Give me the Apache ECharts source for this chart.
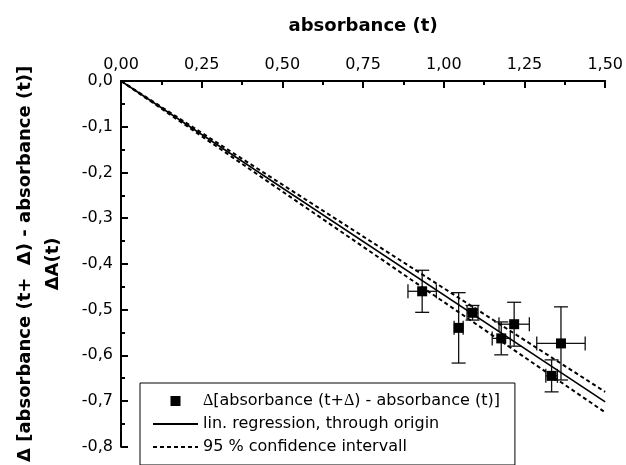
<!DOCTYPE html>
<html>
<head>
<meta charset="utf-8">
<script src="https://cdn.jsdelivr.net/npm/echarts@6/dist/echarts.min.js"></script>
<style>
html,body{margin:0;padding:0;background:#fff;}
#chart{width:626px;height:465px;}
</style>
</head>
<body>
<div id="chart"></div>
<script>
// ---- data ----
const pointX  = [0.933, 1.046, 1.089, 1.218, 1.178, 1.363, 1.334];
const pointY  = [-0.460, -0.540, -0.507, -0.532, -0.563, -0.574, -0.645];
const errX    = [0.044, 0.014, 0.017, 0.047, 0.028, 0.075, 0.018];
const errY    = [0.046, 0.077, 0.016, 0.048, 0.036, 0.080, 0.035];
const lineX   = [0, 1.5];
const regY    = [0, -0.702];
const ciUpY   = [0, -0.680];
const ciLowY  = [0, -0.725];
const xTicks  = ['0,00', '0,25', '0,50', '0,75', '1,00', '1,25', '1,50'];
const yTicks  = ['0,0', '-0,1', '-0,2', '-0,3', '-0,4', '-0,5', '-0,6', '-0,7', '-0,8'];

const nameData = 'Δ[absorbance (t+Δ) - absorbance (t)]';
const nameReg  = 'lin. regression, through origin';
const nameCI   = '95 % confidence intervall';

const pts = pointX.map((x, i) => [x, pointY[i]]);
const errs = pointX.map((x, i) => [x, pointY[i], errX[i], errY[i]]);
const pairs = ys => lineX.map((x, i) => [x, ys[i]]);

const chart = echarts.init(document.getElementById('chart'), null, {renderer: 'canvas'});
const FONT = 'DejaVu Sans';

chart.setOption({
  animation: false,
  backgroundColor: '#ffffff',
  grid: {left: 121, right: 19, top: 81, bottom: 6, containLabel: false},
  xAxis: {
    type: 'value', position: 'top', min: 0, max: 1.5, interval: 0.25,
    name: 'absorbance (t)', nameLocation: 'middle', nameGap: 46,
    nameTextStyle: {fontFamily: FONT, fontWeight: 'bold', fontSize: 18, color: '#000'},
    axisLine: {onZero: false, lineStyle: {color: '#000', width: 2}},
    axisTick: {inside: true, length: 7, lineStyle: {color: '#000', width: 2}},
    minorTick: {show: true, splitNumber: 2, length: 4, lineStyle: {color: '#000', width: 2}},
    splitLine: {show: false},
    axisLabel: {
      margin: 8, fontFamily: FONT, fontSize: 16, color: '#000',
      formatter: v => xTicks[Math.round(v / 0.25)]
    }
  },
  yAxis: {
    type: 'value', min: -0.8, max: 0, interval: 0.1,
    name: 'Δ [absorbance (t+  Δ) - absorbance (t)]\nΔA(t)',
    nameLocation: 'middle', nameGap: 54, nameRotate: 90,
    nameTextStyle: {fontFamily: FONT, fontWeight: 'bold', fontSize: 18, color: '#000', lineHeight: 28, align: 'center'},
    axisLine: {onZero: false, lineStyle: {color: '#000', width: 2}},
    axisTick: {inside: true, length: 7, lineStyle: {color: '#000', width: 2}},
    minorTick: {show: true, splitNumber: 2, length: 4, lineStyle: {color: '#000', width: 2}},
    splitLine: {show: false},
    axisLabel: {
      margin: 8, fontFamily: FONT, fontSize: 16, color: '#000',
      formatter: v => yTicks[Math.round(-v / 0.1)]
    }
  },
  legend: {
    orient: 'vertical', left: 140, top: 383,
    padding: [10, 15, 10, 12], itemGap: 7, itemWidth: 45, itemHeight: 10,
    backgroundColor: '#ffffff', borderColor: '#000', borderWidth: 1,
    selectedMode: false,
    textStyle: {fontFamily: FONT, fontSize: 16, color: '#000', lineHeight: 16,
      rich: {d: {fontFamily: 'Liberation Serif', fontSize: 16, color: '#000'}}},
    formatter: n => n.replace(/Δ/g, '{d|Δ}'),
    data: [
      {name: nameData, icon: 'path://M0,0h10v10h-10z', itemStyle: {color: '#000', opacity: 1}},
      {name: nameReg, itemStyle: {opacity: 0}},
      {name: nameCI, itemStyle: {opacity: 0}}
    ]
  },
  series: [
    {
      type: 'custom', name: 'errorbars', z: 3,
      data: errs,
      encode: {x: 0, y: 1},
      renderItem: function (params, api) {
        const x = api.value(0), y = api.value(1), ex = api.value(2), ey = api.value(3);
        const l = api.coord([x - ex, y]), r = api.coord([x + ex, y]);
        const t = api.coord([x, y + ey]), b = api.coord([x, y - ey]);
        const cap = 7;
        const st = {stroke: '#111', lineWidth: 1.3};
        const ln = (x1, y1, x2, y2) => ({type: 'line', shape: {x1, y1, x2, y2}, style: st});
        return {type: 'group', children: [
          ln(l[0], l[1], r[0], r[1]),
          ln(t[0], t[1], b[0], b[1]),
          ln(l[0], l[1] - cap, l[0], l[1] + cap),
          ln(r[0], r[1] - cap, r[0], r[1] + cap),
          ln(t[0] - cap, t[1], t[0] + cap, t[1]),
          ln(b[0] - cap, b[1], b[0] + cap, b[1])
        ]};
      }
    },
    {
      type: 'line', name: nameReg, data: pairs(regY), symbol: 'none', z: 4,
      lineStyle: {color: '#000', width: 1.6}, itemStyle: {color: '#000'}
    },
    {
      type: 'line', name: nameCI, data: pairs(ciUpY), symbol: 'none', z: 4,
      lineStyle: {color: '#000', width: 2, type: [4, 3]}, itemStyle: {color: '#000'}
    },
    {
      type: 'line', name: nameCI, data: pairs(ciLowY), symbol: 'none', z: 4,
      lineStyle: {color: '#000', width: 2, type: [4, 3]}, itemStyle: {color: '#000'}
    },
    {
      type: 'scatter', name: nameData, data: pts, symbol: 'rect', symbolSize: 10, z: 5,
      itemStyle: {color: '#000', opacity: 1}
    }
  ]
});
</script>
</body>
</html>
